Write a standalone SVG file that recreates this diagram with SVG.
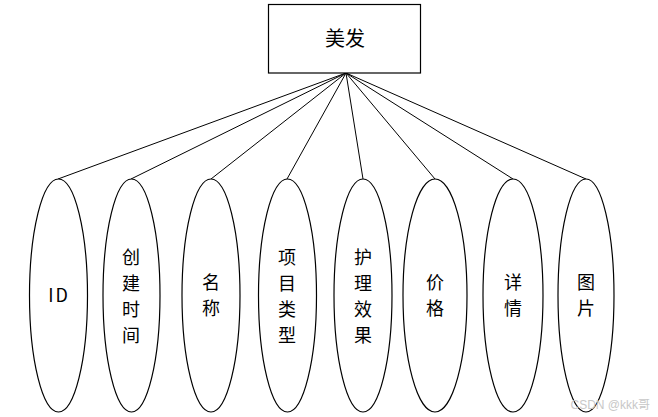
<svg xmlns="http://www.w3.org/2000/svg" width="658" height="417" viewBox="0 0 658 417">
<style>
.s{fill:#fff;stroke:#000;stroke-width:1.2}
.c line{stroke:#000;stroke-width:1}
.t{font-family:"Noto Sans CJK SC","Liberation Sans",sans-serif;font-size:18px;fill:#000;text-anchor:middle}
.w{font-family:"Liberation Sans","Noto Sans CJK SC",sans-serif;font-size:12px;fill:#c8c8c8;text-anchor:end}
</style>
<rect width="658" height="417" fill="#fff"/>
<g class="c" id="connectors">
<line x1="346" y1="73" x2="58" y2="179"/>
<line x1="346" y1="73" x2="131" y2="179"/>
<line x1="346" y1="73" x2="211" y2="179"/>
<line x1="346" y1="73" x2="287" y2="179"/>
<line x1="346" y1="73" x2="363" y2="179"/>
<line x1="346" y1="73" x2="435" y2="179"/>
<line x1="346" y1="73" x2="513" y2="179"/>
<line x1="346" y1="73" x2="586" y2="179"/>
</g>
<g id="root"><rect class="s" x="268.5" y="4.5" width="152" height="68.5"/><text class="t" x="345" y="46" style="font-size:20px">美发</text></g>
<g id="n1"><ellipse class="s" cx="58.5" cy="295.5" rx="29" ry="116.5"/><text class="t" x="59" y="302" letter-spacing="2">ID</text></g>
<g id="n2"><ellipse class="s" cx="131.5" cy="295.5" rx="28.5" ry="116.5"/><text class="t" x="131" y="264">创</text><text class="t" x="131" y="290">建</text><text class="t" x="131" y="316">时</text><text class="t" x="131" y="342">间</text></g>
<g id="n3"><ellipse class="s" cx="211" cy="295.5" rx="29" ry="116.5"/><text class="t" x="211" y="289">名</text><text class="t" x="211" y="315">称</text></g>
<g id="n4"><ellipse class="s" cx="287.5" cy="295.5" rx="29" ry="116.5"/><text class="t" x="287" y="264">项</text><text class="t" x="287" y="290">目</text><text class="t" x="287" y="316">类</text><text class="t" x="287" y="342">型</text></g>
<g id="n5"><ellipse class="s" cx="363" cy="295.5" rx="29" ry="116.5"/><text class="t" x="363" y="264">护</text><text class="t" x="363" y="290">理</text><text class="t" x="363" y="316">效</text><text class="t" x="363" y="342">果</text></g>
<g id="n6"><ellipse class="s" cx="435" cy="295.5" rx="32" ry="116.5"/><text class="t" x="435" y="289">价</text><text class="t" x="435" y="315">格</text></g>
<g id="n7"><ellipse class="s" cx="513" cy="295.5" rx="30" ry="116.5"/><text class="t" x="513" y="289">详</text><text class="t" x="513" y="315">情</text></g>
<g id="n8"><ellipse class="s" cx="586" cy="295.5" rx="28" ry="116.5"/><text class="t" x="586" y="289">图</text><text class="t" x="586" y="315">片</text></g>
<text class="w" x="650" y="409">CSDN @kkk哥</text>
</svg>
